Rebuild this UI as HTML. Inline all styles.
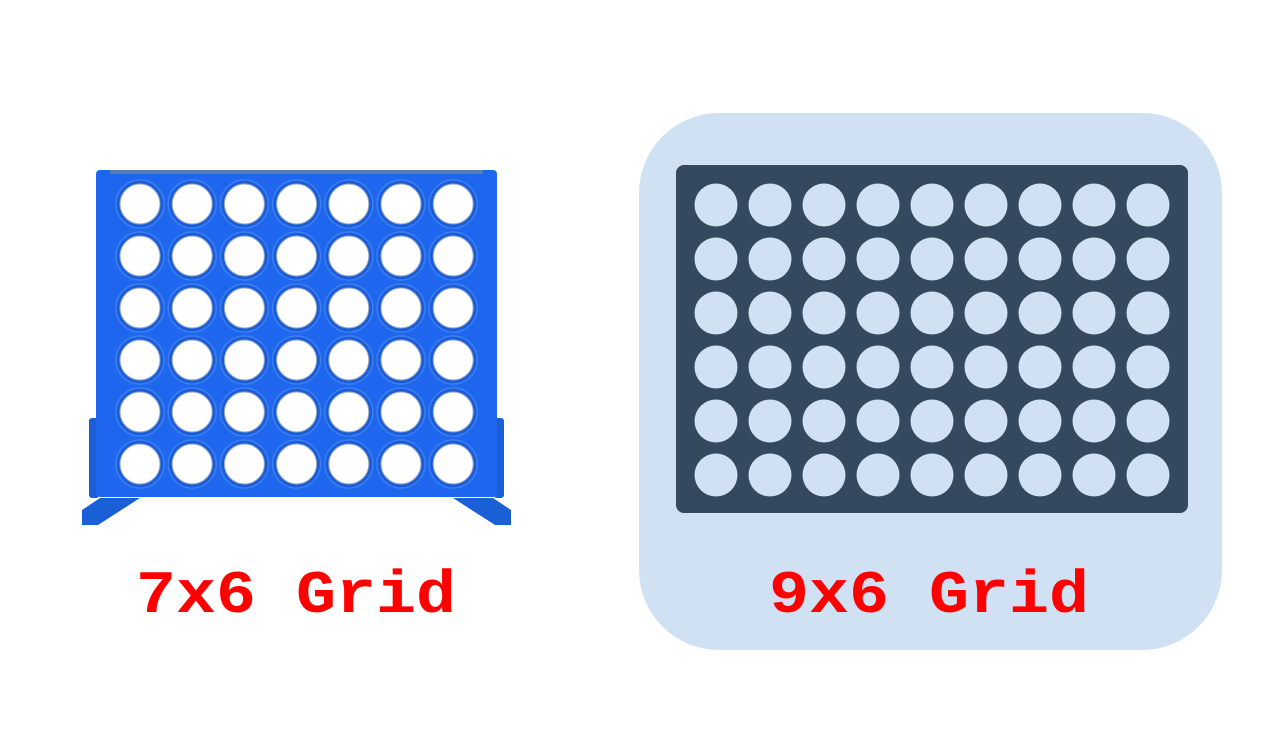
<!DOCTYPE html>
<html><head><meta charset="utf-8"><style>
html,body{margin:0;padding:0;background:#fff;}
body{width:1272px;height:755px;position:relative;overflow:hidden;}
svg{position:absolute;left:0;top:0;}
text{font-family:"Liberation Mono",monospace;font-weight:bold;fill:#ff0000;}
</style></head><body>
<svg width="1272" height="755" viewBox="0 0 1272 755">
  <g>
    <rect x="89" y="418" width="10" height="80" rx="3" fill="#1a5fd6"/>
    <rect x="494" y="418" width="10" height="80" rx="3" fill="#1a5fd6"/>
    <polygon points="82,525 98,525 140,498 100,498 82,510" fill="#1a5fd6"/>
    <polygon points="511,525 495,525 453,498 493,498 511,510" fill="#1a5fd6"/>
    <rect x="96" y="170" width="401" height="327" rx="4" fill="#1f66ee"/>
    <rect x="110" y="170" width="373" height="4" fill="#5a7bb5"/>
    <g id="holesA"></g>
  </g>
  <text x="296" y="612" font-size="60" text-anchor="middle" textLength="320" lengthAdjust="spacingAndGlyphs">7x6 Grid</text>
  <g>
    <rect x="639" y="113" width="583" height="537" rx="80" fill="#cfe1f2"/>
    <rect x="676" y="165" width="512" height="348" rx="8" fill="#34495e"/>
    <g id="holesB"></g>
  </g>
  <text x="929" y="612" font-size="60" text-anchor="middle" textLength="320" lengthAdjust="spacingAndGlyphs">9x6 Grid</text>
</svg>
<script>
const colsA = 7, rowsA = 6, colsB = 9, rowsB = 6;
const NS = "http://www.w3.org/2000/svg";
const gA = document.getElementById('holesA');
for (let r = 0; r < rowsA; r++) for (let c = 0; c < colsA; c++) {
  const cx = 140 + c * 52.2, cy = 204 + r * 52;
  const ring = document.createElementNS(NS, 'circle');
  
  
  ring.setAttribute('cx', cx); ring.setAttribute('cy', cy); ring.setAttribute('r', 24);
  ring.setAttribute('fill', '#1a5dd8'); ring.setAttribute('stroke', '#3d7ef0'); ring.setAttribute('stroke-width', '1.5');
  gA.appendChild(ring);
  const h = document.createElementNS(NS, 'circle');
  
  
  h.setAttribute('cx', cx); h.setAttribute('cy', cy); h.setAttribute('r', 20);
  h.setAttribute('fill', '#ffffff'); h.setAttribute('stroke', '#9aa9c4'); h.setAttribute('stroke-width', '1');
  gA.appendChild(h);
}
const gB = document.getElementById('holesB');
for (let r = 0; r < rowsB; r++) for (let c = 0; c < colsB; c++) {
  const h = document.createElementNS(NS, 'circle');
  
  
  h.setAttribute('cx', 716 + c * 54); h.setAttribute('cy', 205 + r * 54); h.setAttribute('r', 21.5);
  h.setAttribute('fill', '#cfe1f2');
  gB.appendChild(h);
}
</script>
</body></html>
